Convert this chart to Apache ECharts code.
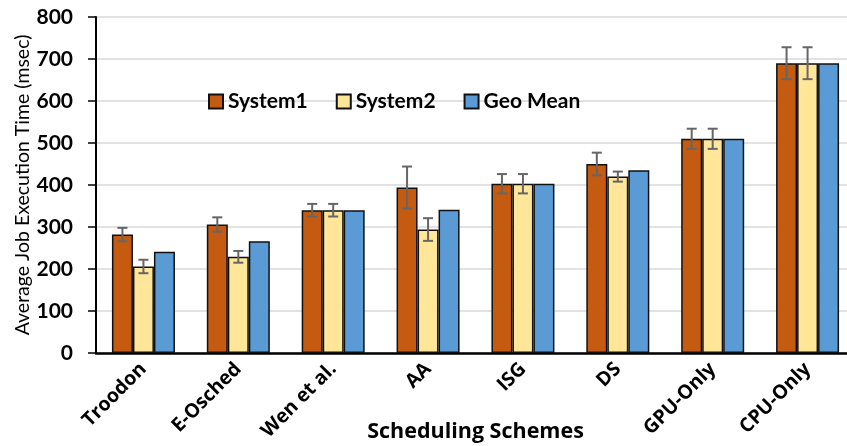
<!DOCTYPE html>
<html>
<head>
<meta charset="utf-8">
<script src="https://cdn.jsdelivr.net/npm/echarts@6/dist/echarts.min.js"></script>
<style>
  html, body { margin: 0; padding: 0; background: #fff; }
  #chart { width: 847px; height: 446px; }
</style>
</head>
<body>
<div id="chart"></div>
<script>
// Scheduling schemes on the x axis
const categories = ['Troodon', 'E-Osched', 'Wen et al.', 'AA', 'ISG', 'DS', 'GPU-Only', 'CPU-Only'];

// Average job execution time (msec)
const system1 = [282, 306, 340, 394, 403, 450, 510, 690];
const system2 = [206, 229, 340, 294, 403, 420, 510, 690];
const geoMean = [241, 266, 340, 341, 403, 435, 510, 690];

// Half-length of the error bars (msec)
const system1Err = [16, 17, 15, 50, 23, 27, 24, 38];
const system2Err = [16, 14, 15, 27, 23, 12, 24, 38];

// Value axis ticks
const yTicks = [0, 100, 200, 300, 400, 500, 600, 700, 800];

const FONT = 'Lato';
const FONT_X = 'Open Sans';
const BAR_W = 21;
const colors = { s1: '#C55A11', s2: '#FFE699', geo: '#5B9BD5' };

function errorSeries(name, values, errs, offset) {
  return {
    name: name + ' error',
    type: 'custom',
    z: 10,
    silent: true,
    data: values.map((v, i) => [i, v, errs[i]]),
    renderItem: function (params, api) {
      const idx = api.value(0), v = api.value(1), e = api.value(2);
      const x = api.coord([idx, v])[0] + offset;
      const yTop = api.coord([idx, v + e])[1];
      const yBot = api.coord([idx, v - e])[1];
      const cap = 5;
      const style = { stroke: '#666666', lineWidth: 2 };
      return {
        type: 'group',
        children: [
          { type: 'line', shape: { x1: x, y1: yTop, x2: x, y2: yBot }, style: style },
          { type: 'line', shape: { x1: x - cap, y1: yTop, x2: x + cap, y2: yTop }, style: style },
          { type: 'line', shape: { x1: x - cap, y1: yBot, x2: x + cap, y2: yBot }, style: style }
        ]
      };
    }
  };
}

function barSeries(name, values, color) {
  return {
    name: name,
    type: 'bar',
    barWidth: BAR_W,
    barGap: '0%',
    data: values,
    itemStyle: { color: color, borderColor: '#111', borderWidth: 1.5 }
  };
}

const chart = echarts.init(document.getElementById('chart'), null, { renderer: 'canvas' });

chart.setOption({
  backgroundColor: '#ffffff',
  animation: false,
  textStyle: { fontFamily: FONT },
  grid: { left: 96, right: -8, top: 17, bottom: 93, containLabel: false, outerBoundsMode: 'none' },
  legend: {
    left: 203,
    top: 86,
    icon: 'rect',
    itemWidth: 14,
    itemHeight: 14,
    itemGap: 28,
    data: ['System1', 'System2', 'Geo Mean'],
    textStyle: { fontFamily: FONT, fontWeight: 'bold', fontSize: 21, color: '#000' }
  },
  xAxis: {
    type: 'category',
    data: categories,
    name: 'Scheduling Schemes',
    nameLocation: 'middle',
    nameGap: 68,
    nameMoveOverlap: false,
    nameTextStyle: { fontFamily: FONT_X, fontWeight: 'bold', fontSize: 21.5, color: '#000' },
    axisLine: { lineStyle: { color: '#000', width: 2.5 } },
    axisTick: { show: false },
    axisLabel: {
      rotate: 45,
      margin: 13,
      interval: 0,
      fontFamily: FONT_X,
      fontWeight: 'bold',
      fontSize: 19.5,
      color: '#000'
    }
  },
  yAxis: {
    type: 'value',
    min: yTicks[0],
    max: yTicks[yTicks.length - 1],
    interval: yTicks[1] - yTicks[0],
    name: 'Average Job Execution Time (msec)',
    nameLocation: 'middle',
    nameGap: 63,
    nameMoveOverlap: false,
    nameTextStyle: { fontFamily: FONT, fontSize: 19.5, color: '#000' },
    axisLine: { show: true, lineStyle: { color: '#000', width: 2 } },
    axisTick: { show: true, length: 8, lineStyle: { color: '#000', width: 1.5 } },
    axisLabel: { margin: 23, fontFamily: FONT, fontWeight: 'bold', fontSize: 21, color: '#000' },
    splitLine: { show: true, lineStyle: { color: '#d9d9d9', width: 1.5 } }
  },
  series: [
    barSeries('System1', system1, colors.s1),
    barSeries('System2', system2, colors.s2),
    barSeries('Geo Mean', geoMean, colors.geo),
    errorSeries('System1', system1, system1Err, -BAR_W),
    errorSeries('System2', system2, system2Err, 0)
  ]
});
</script>
</body>
</html>
